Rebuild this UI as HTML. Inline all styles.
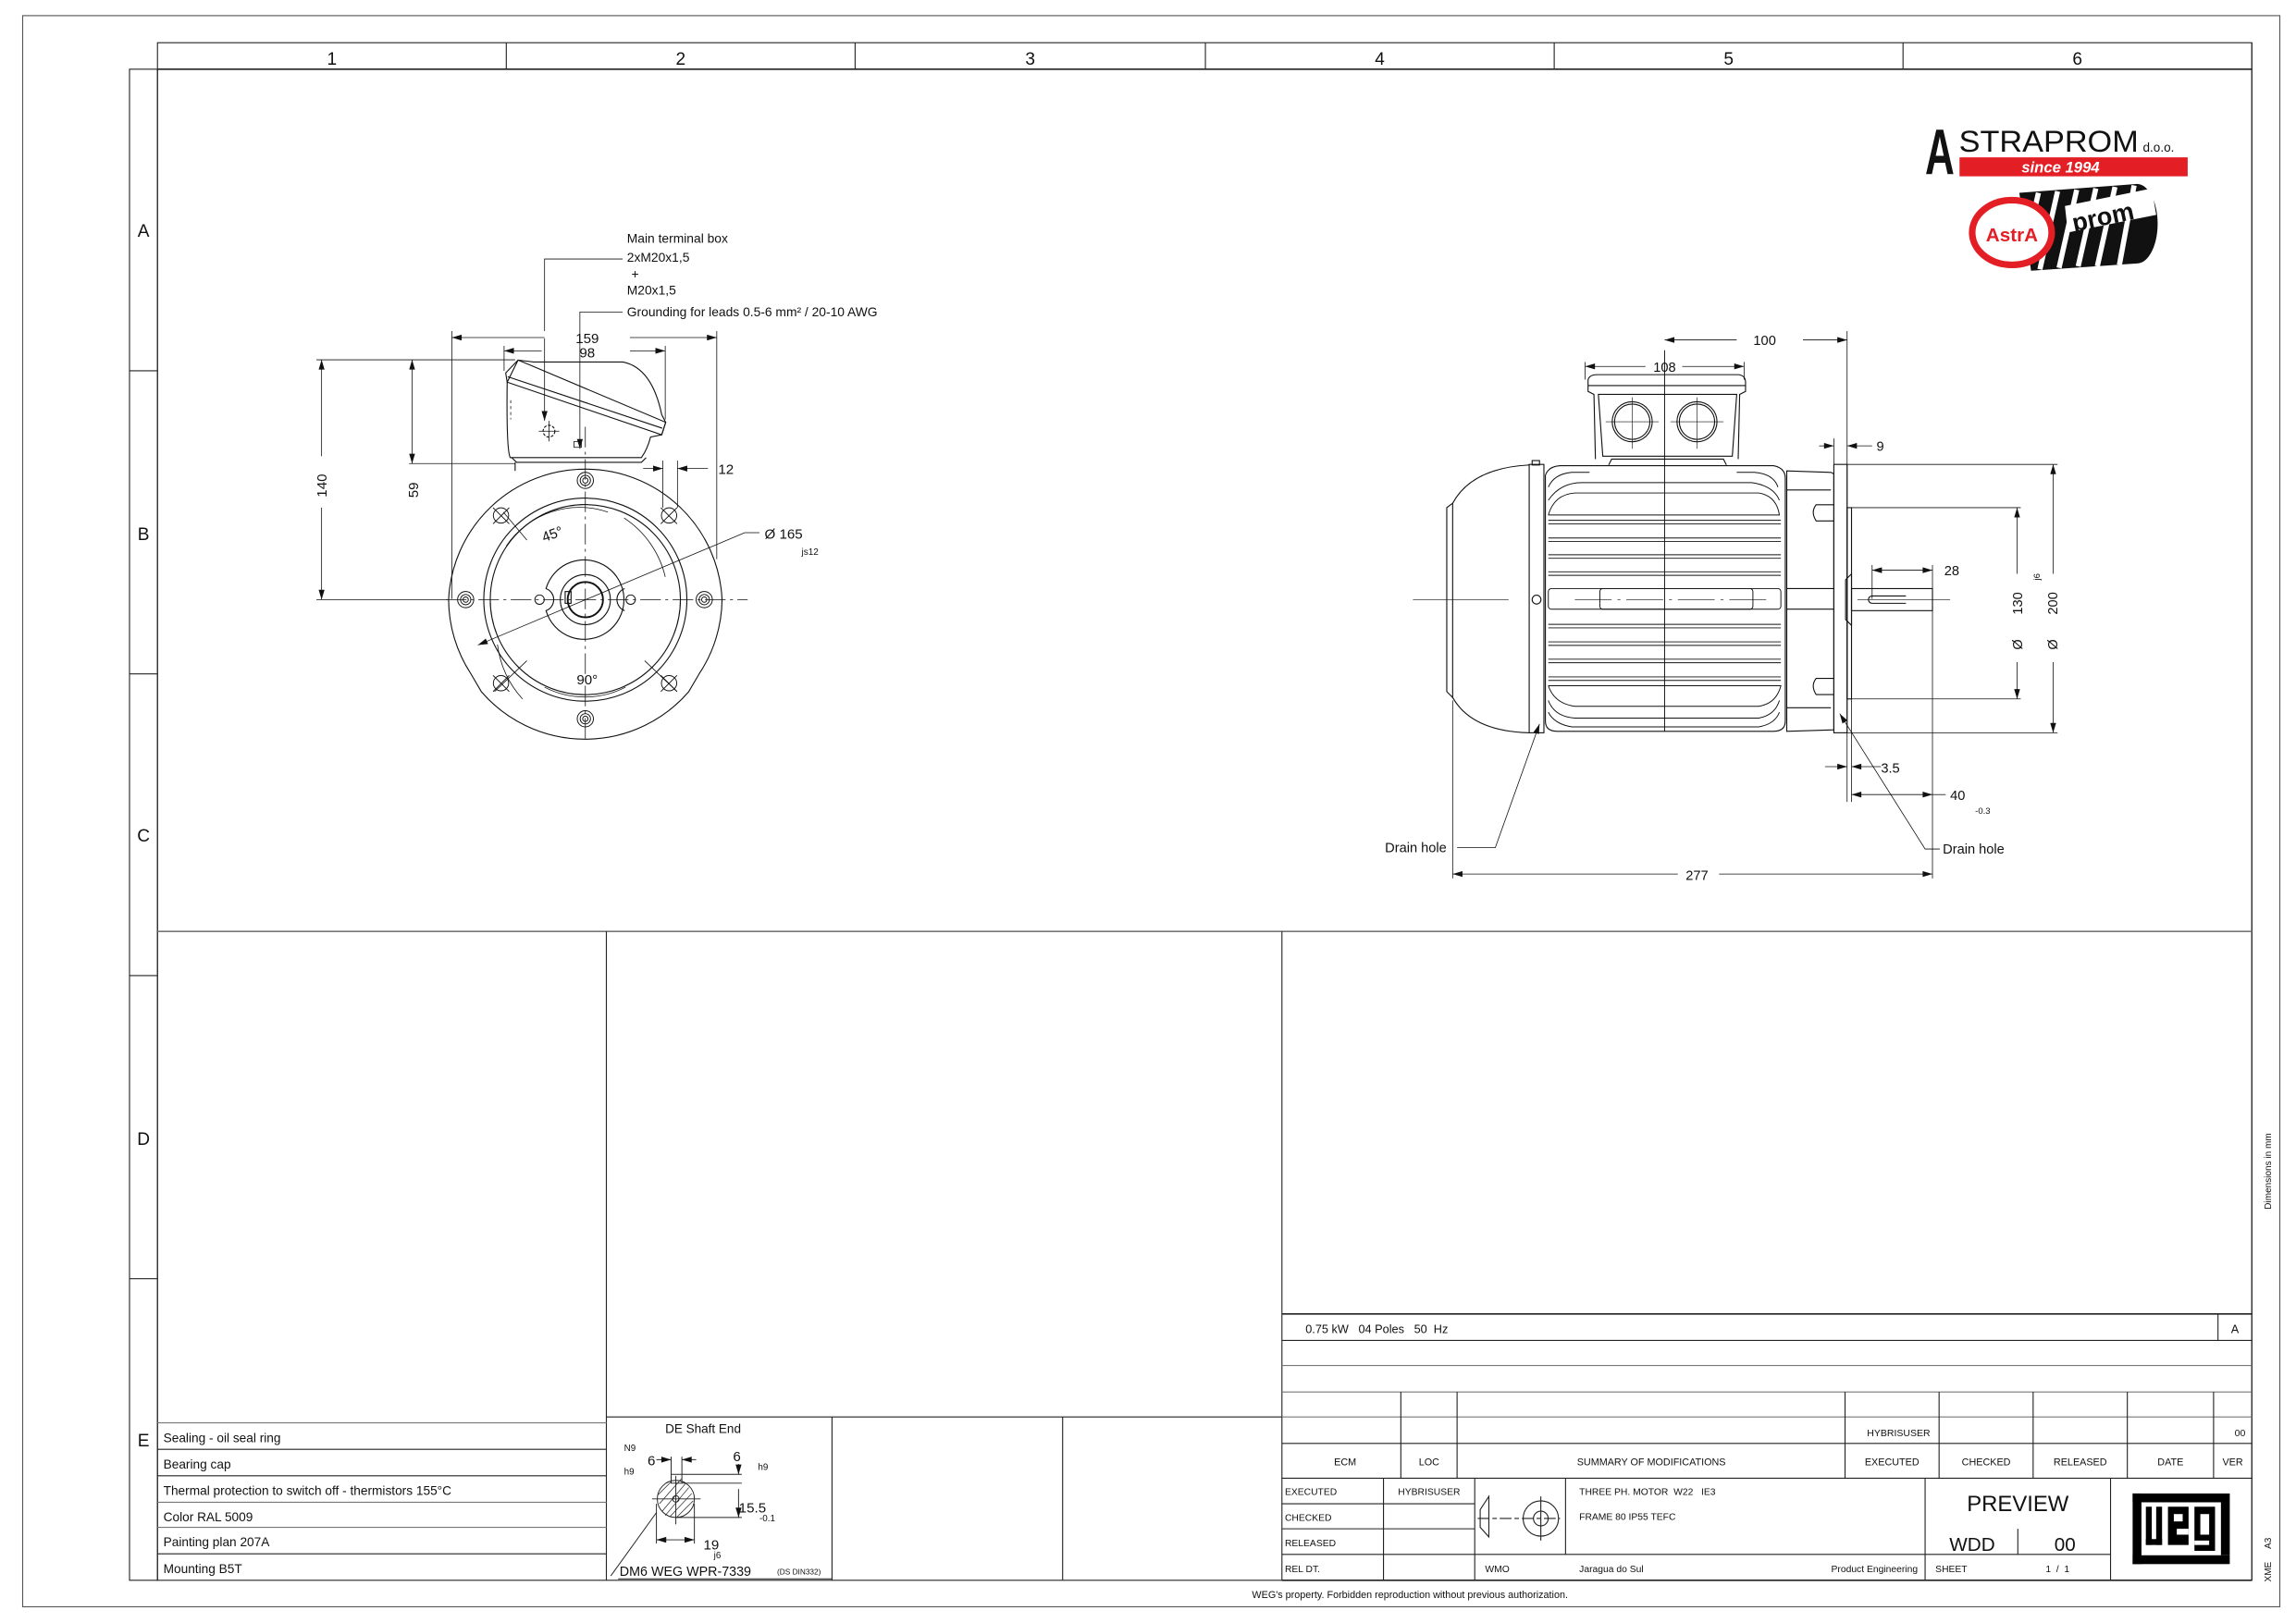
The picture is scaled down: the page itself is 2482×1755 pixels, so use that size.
<!DOCTYPE html>
<html><head><meta charset="utf-8"><style>
html,body{margin:0;padding:0;background:#fff}
svg{display:block}
text{font-family:"Liberation Sans",Arial,sans-serif;fill:#111}
</style></head><body>
<svg width="2482" height="1755" viewBox="0 0 1560 1103" xmlns="http://www.w3.org/2000/svg">
<defs>
<marker id="a" viewBox="0 0 10 6" refX="10" refY="3" markerWidth="7" markerHeight="4" orient="auto-start-reverse" markerUnits="userSpaceOnUse"><path d="M0,0 L10,3 L0,6 z" fill="#111"/></marker>
</defs>
<g fill="none" stroke="#222" stroke-width="0.7">
<rect x="15.4" y="10.6" width="1533.6" height="1081.4" stroke="#555"/>
<rect x="107" y="29" width="1423" height="1045"/>
<line x1="107" y1="47" x2="1530" y2="47" stroke-width="1"/>
<rect x="88" y="47" width="19" height="1027"/>
<line x1="344" y1="29" x2="344" y2="47"/><line x1="581" y1="29" x2="581" y2="47"/><line x1="819" y1="29" x2="819" y2="47"/><line x1="1056" y1="29" x2="1056" y2="47"/><line x1="1293" y1="29" x2="1293" y2="47"/>
<line x1="88" y1="252" x2="107" y2="252"/><line x1="88" y1="458" x2="107" y2="458"/><line x1="88" y1="663" x2="107" y2="663"/><line x1="88" y1="869" x2="107" y2="869"/>
<line x1="1530" y1="29" x2="1530" y2="1074"/>
<line x1="107" y1="633" x2="1530" y2="633" stroke="#777" stroke-width="1"/>
<line x1="412" y1="633" x2="412" y2="1074"/>
<line x1="871" y1="633" x2="871" y2="1074"/>
<line x1="107" y1="967" x2="412" y2="967" stroke="#777"/>
<line x1="107" y1="985" x2="412" y2="985"/><line x1="107" y1="1003" x2="412" y2="1003"/><line x1="107" y1="1021" x2="412" y2="1021" stroke="#777"/><line x1="107" y1="1038" x2="412" y2="1038" stroke="#777"/><line x1="107" y1="1056" x2="412" y2="1056"/>
<line x1="412" y1="963" x2="871" y2="963"/>
<line x1="565.3" y1="963" x2="565.3" y2="1074"/>
<line x1="722" y1="963" x2="722" y2="1074"/>
<line x1="871" y1="893" x2="1530" y2="893" stroke-width="1"/>
<line x1="871" y1="911" x2="1530" y2="911"/>
<line x1="1507" y1="893" x2="1507" y2="911"/>
<line x1="871" y1="928" x2="1530" y2="928" stroke="#777"/>
<line x1="871" y1="946" x2="1530" y2="946" stroke="#777"/>
<line x1="871" y1="963" x2="1530" y2="963" stroke="#777"/>
<line x1="871" y1="981" x2="1530" y2="981"/>
<line x1="871" y1="1004.6" x2="1530" y2="1004.6"/>
<line x1="951.8" y1="946" x2="951.8" y2="1004.6"/><line x1="990" y1="946" x2="990" y2="1004.6"/><line x1="1253.6" y1="946" x2="1253.6" y2="1004.6"/><line x1="1317.5" y1="946" x2="1317.5" y2="1004.6"/><line x1="1381.4" y1="946" x2="1381.4" y2="1004.6"/><line x1="1445.4" y1="946" x2="1445.4" y2="1004.6"/><line x1="1504" y1="946" x2="1504" y2="1004.6"/>
<line x1="940" y1="1004.6" x2="940" y2="1074"/>
<line x1="1002" y1="1004.6" x2="1002" y2="1074"/>
<line x1="1063.7" y1="1004.6" x2="1063.7" y2="1056.4"/>
<line x1="1308" y1="1004.6" x2="1308" y2="1074"/>
<line x1="1434" y1="1004.6" x2="1434" y2="1074"/>
<line x1="871" y1="1022" x2="1002" y2="1022"/>
<line x1="871" y1="1039" x2="1002" y2="1039"/>
<line x1="871" y1="1056.4" x2="1434" y2="1056.4"/>
<line x1="1371" y1="1039" x2="1371" y2="1056.4"/>
<line x1="871" y1="1074" x2="1530" y2="1074" stroke-width="1"/>
<path d="M1005.7,1026 L1011.6,1017 L1011.6,1044.5 L1005.7,1038 Z"/>
<circle cx="1046.9" cy="1032" r="12"/><circle cx="1046.9" cy="1032" r="5"/>
<line x1="1004" y1="1032" x2="1060" y2="1032" stroke-dasharray="8,2,3,2"/>
<line x1="1046.9" y1="1017" x2="1046.9" y2="1047"/>
</g>

<g font-size="12" text-anchor="middle" fill="#333">
<text x="225.5" y="44">1</text><text x="462.5" y="44">2</text><text x="700" y="44">3</text><text x="937.5" y="44">4</text><text x="1174.5" y="44">5</text><text x="1411.5" y="44">6</text>
<text x="97.5" y="161">A</text><text x="97.5" y="367">B</text><text x="97.5" y="572">C</text><text x="97.5" y="778">D</text><text x="97.5" y="983">E</text>
</g>
<text x="1543" y="796" font-size="6.3" text-anchor="middle" transform="rotate(-90 1543 796)">Dimensions in mm</text>
<text x="1543" y="1060" font-size="6.3" text-anchor="middle" transform="rotate(-90 1543 1060)">XME &#160;&#160;&#160;&#160;A3</text>
<text x="958" y="1086" font-size="6.8" text-anchor="middle">WEG's property. Forbidden reproduction without previous authorization.</text>

<g font-size="8.6">
<text x="111" y="980">Sealing - oil seal ring</text>
<text x="111" y="998">Bearing cap</text>
<text x="111" y="1016">Thermal protection to switch off - thermistors 155°C</text>
<text x="111" y="1034">Color RAL 5009</text>
<text x="111" y="1051">Painting plan 207A</text>
<text x="111" y="1069">Mounting B5T</text>
</g>

<g font-size="8.5">
<text x="477.7" y="974" text-anchor="middle">DE Shaft End</text>
<text x="424" y="986" font-size="6.2">N9</text>
<text x="424" y="1002" font-size="6.2">h9</text>
<text x="440" y="996" font-size="9.5">6</text>
<text x="498" y="993" font-size="9.5">6</text>
<text x="515" y="999" font-size="6.2">h9</text>
<text x="502" y="1028" font-size="9.5">15.5</text>
<text x="516" y="1034" font-size="6.2">-0.1</text>
<text x="478" y="1053" font-size="9.5">19</text>
<text x="485" y="1059" font-size="6.2">j6</text>
<text x="421" y="1071" font-size="9">DM6 WEG WPR-7339</text>
<text x="528" y="1070" font-size="5.2">(DS DIN332)</text>
</g>
<g fill="none" stroke="#222" stroke-width="0.6">
<circle cx="459.2" cy="1018.7" r="12.6"/>
<circle cx="459.2" cy="1018.7" r="2.2"/>
<rect x="456" y="1002" width="7.3" height="6"/>
<line x1="443" y1="1018.7" x2="476" y2="1018.7"/>
<line x1="459.2" y1="1003" x2="459.2" y2="1036"/>
<path d="M450,1027 L466,1008 M452,1030 L468,1011 M455,1031 L470,1015 M448,1022 L463,1005 M447,1016 L456,1007 M460,1031 L471,1020" stroke-width="0.45"/>
<line x1="456" y1="990" x2="456" y2="1002"/><line x1="463.3" y1="990" x2="463.3" y2="1002"/>
<line x1="446" y1="992" x2="456" y2="992" marker-end="url(#a)"/><line x1="473" y1="992" x2="463.3" y2="992" marker-end="url(#a)"/>
<line x1="463.3" y1="1002" x2="504" y2="1002"/><line x1="463.3" y1="1008" x2="504" y2="1008"/><line x1="459.2" y1="1031.3" x2="504" y2="1031.3"/>
<line x1="501.8" y1="995" x2="501.8" y2="1002" marker-end="url(#a)"/><line x1="501.8" y1="1012" x2="501.8" y2="1031.3" marker-end="url(#a)"/>
<line x1="446" y1="1022" x2="446" y2="1049"/><line x1="471.8" y1="1022" x2="471.8" y2="1049"/>
<line x1="446" y1="1046.5" x2="471.8" y2="1046.5" marker-start="url(#a)" marker-end="url(#a)"/>
<line x1="446" y1="1028" x2="415" y2="1071"/>
<line x1="420" y1="1073" x2="565" y2="1073"/>
</g>

<g font-size="7">
<text x="887" y="906" font-size="8">0.75 kW &#160;&#160;04 Poles &#160;&#160;50 &#160;Hz</text>
<text x="1518.5" y="906" font-size="8" text-anchor="middle">A</text>
<text x="1290" y="976" text-anchor="middle" font-size="6.6">HYBRISUSER</text>
<text x="1522" y="976" text-anchor="middle" font-size="6.6">00</text>
<g text-anchor="middle" font-size="6.8">
<text x="914" y="996">ECM</text><text x="971" y="996">LOC</text><text x="1122" y="996">SUMMARY OF MODIFICATIONS</text>
<text x="1285.5" y="996">EXECUTED</text><text x="1349.5" y="996">CHECKED</text><text x="1413.4" y="996">RELEASED</text><text x="1474.7" y="996">DATE</text><text x="1517" y="996">VER</text>
</g>
<g font-size="6.5">
<text x="873" y="1016">EXECUTED</text><text x="971" y="1016" text-anchor="middle">HYBRISUSER</text>
<text x="873" y="1033.5">CHECKED</text>
<text x="873" y="1051">RELEASED</text>
<text x="873" y="1068.5">REL DT.</text>
<text x="1073" y="1016">THREE PH. MOTOR &#160;W22 &#160;&#160;IE3</text>
<text x="1073" y="1033">FRAME 80 IP55 TEFC</text>
<text x="1009" y="1068.5">WMO</text>
<text x="1073" y="1068.5">Jaragua do Sul</text>
<text x="1303" y="1068.5" text-anchor="end">Product Engineering</text>
<text x="1315" y="1068.5">SHEET</text>
<text x="1398" y="1068.5" text-anchor="middle">1 &#160;/ &#160;1</text>
</g>
<text x="1371" y="1027" font-size="15" text-anchor="middle">PREVIEW</text>
<text x="1340" y="1054" font-size="13" text-anchor="middle">WDD</text>
<text x="1403" y="1054" font-size="13" text-anchor="middle">00</text>
</g>
<!-- WEG logo -->
<g fill="#000">
<rect x="1449" y="1015" width="66" height="6"/>
<rect x="1449" y="1015" width="6" height="48"/>
<rect x="1449" y="1057" width="66" height="6"/>
<rect x="1458" y="1024" width="4" height="26"/>
<rect x="1465" y="1024" width="4" height="26"/>
<rect x="1458" y="1046" width="11" height="4"/>
<rect x="1473" y="1024" width="14" height="26"/>
<rect x="1477" y="1029" width="6" height="5" fill="#fff"/>
<rect x="1479" y="1039" width="8" height="4" fill="#fff"/>
<rect x="1491" y="1024" width="14" height="30"/>
<rect x="1495" y="1029" width="6" height="14" fill="#fff"/>
<rect x="1491" y="1047" width="10" height="3" fill="#fff"/>
<rect x="1509" y="1021" width="6" height="36"/>
</g>

<!-- ASTRAPROM logo -->
<g>
<text x="1308" y="118.4" font-size="44" font-weight="bold" textLength="20" lengthAdjust="spacingAndGlyphs" fill="#111">A</text>
<text x="1331" y="103" font-size="20.5" textLength="122" lengthAdjust="spacingAndGlyphs" fill="#111">STRAPROM</text>
<text x="1456" y="103" font-size="8.5" fill="#111">d.o.o.</text>
<rect x="1331.4" y="106.9" width="155" height="12.9" fill="#e31e24"/>
<text x="1400" y="117.3" font-size="10.5" font-weight="bold" font-style="italic" text-anchor="middle" style="fill:#fff">since 1994</text>
<path d="M1372,131 L1452,125 A14,27 0 0 1 1452,179 L1380,184 Z" fill="#111"/>
<g stroke="#fff" stroke-width="3.5">
<line x1="1385" y1="131" x2="1373" y2="184"/><line x1="1398" y1="130" x2="1386" y2="183"/><line x1="1411" y1="129" x2="1399" y2="182"/><line x1="1424" y1="128" x2="1412" y2="181"/><line x1="1437" y1="127" x2="1425" y2="181"/><line x1="1450" y1="126" x2="1440" y2="180"/>
</g>
<path d="M1403,140 L1462,128 L1465,146 L1405,158 Z" fill="#fff"/>
<text x="1430" y="153" font-size="17" font-weight="bold" text-anchor="middle" transform="rotate(-12 1430 153)" fill="#111">prom</text>
<ellipse cx="1367" cy="158" rx="27" ry="22" fill="#fff" stroke="#e31e24" stroke-width="4.5"/>
<text x="1367" y="164" font-size="13" text-anchor="middle" style="fill:#e31e24" font-weight="bold">AstrA</text>
</g>

<!-- FRONT VIEW -->
<g fill="none" stroke="#111" stroke-width="0.7">
<path d="M304.8,407.5 A93,93 0 0 1 490.6,407.5 A93,93 0 0 1 475,458 L468,470 A93,93 0 0 1 327,470 L320,458 A93,93 0 0 1 304.8,407.5 Z"/>
<circle cx="397.7" cy="407.5" r="69"/>
<circle cx="397.7" cy="407.5" r="64.6"/>
<path d="M371,400 A27,27 0 1 1 371,415 A8,8 0 0 0 371,400 Z M424.4,400 A8,8 0 0 0 424.4,415"/>
<circle cx="397.7" cy="407.5" r="17"/>
<circle cx="397.7" cy="407.5" r="12" stroke-width="1.2"/>
<rect x="384" y="402" width="4" height="8"/>
<g stroke-width="0.6">
<circle cx="397.7" cy="326.5" r="5.5"/><circle cx="397.7" cy="326.5" r="3.5"/><circle cx="397.7" cy="326.5" r="1.8"/>
<circle cx="397.7" cy="488.5" r="5.5"/><circle cx="397.7" cy="488.5" r="3.5"/><circle cx="397.7" cy="488.5" r="1.8"/>
<circle cx="316.4" cy="407.5" r="5.5"/><circle cx="316.4" cy="407.5" r="3.5"/><circle cx="316.4" cy="407.5" r="1.8"/>
<circle cx="478.5" cy="407.5" r="5.5"/><circle cx="478.5" cy="407.5" r="3.5"/><circle cx="478.5" cy="407.5" r="1.8"/>
<circle cx="366.6" cy="407.5" r="3.2"/><circle cx="428.5" cy="407.5" r="3.2"/>
<circle cx="340.4" cy="350.3" r="5.2"/><path d="M335,345 L346,356 M346,345 L335,356"/>
<circle cx="454.6" cy="350.3" r="5.2"/><path d="M449,345 L460,356 M460,345 L449,356"/>
<circle cx="340.4" cy="464.3" r="5.2"/><path d="M335,459 L346,470 M346,459 L335,470"/>
<circle cx="454.6" cy="464.3" r="5.2"/><path d="M449,459 L460,470 M460,459 L449,470"/>
</g>
<line x1="303" y1="407.5" x2="508" y2="407.5" stroke-width="0.5" stroke-dasharray="14,3,2,3"/>
<line x1="397.7" y1="290" x2="397.7" y2="505" stroke-width="0.5" stroke-dasharray="14,3,2,3"/>
<path d="M344,371 A60,60 0 0 1 413,348" stroke-width="0.5"/>
<path d="M370,467 A60,60 0 0 0 425,467" stroke-width="0.5"/>
<path d="M424,352 A66,66 0 0 1 452,392" stroke-width="0.5"/>
<path d="M338,438 A68,68 0 0 0 355,475" stroke-width="0.5"/>
<line x1="358" y1="367" x2="342" y2="348" stroke-width="0.5"/>
<line x1="438" y1="449" x2="460" y2="470" stroke-width="0.5"/>
<line x1="358" y1="449" x2="336" y2="470" stroke-width="0.5"/>
<path d="M352,244.7 L362.6,246 L423.3,246 Q443,250 449.6,281.8 L452.3,287 L449.6,295.5 L442,297 Q440,305 435.8,311 L346.7,311 Q344,306 344.6,259.7 Z"/>
<path d="M343.6,253.4 L352,244.7 L360,248 L452.3,287 L449.6,295.5 L344.6,259.7 Z"/>
<line x1="345" y1="256" x2="450" y2="291"/>
<path d="M347.7,311 L351,314.2 L435.8,314.2 L439,311"/>
<line x1="350" y1="314.2" x2="350" y2="320"/>
<circle cx="373" cy="293" r="4" stroke-dasharray="2,1"/>
<line x1="366" y1="293" x2="380" y2="293" stroke-width="0.5"/><line x1="373" y1="286" x2="373" y2="300" stroke-width="0.5"/>
<rect x="390" y="300" width="5" height="4" stroke-width="0.5"/>
<line x1="347" y1="272" x2="347" y2="285" stroke-dasharray="2,2" stroke-width="0.5"/>
</g>
<g fill="none" stroke="#111" stroke-width="0.5">
<line x1="215" y1="244.5" x2="350" y2="244.5"/>
<line x1="278" y1="315" x2="350" y2="315"/>
<line x1="215" y1="407.5" x2="305" y2="407.5"/>
<line x1="218.5" y1="310" x2="218.5" y2="244.5" marker-end="url(#a)"/>
<line x1="218.5" y1="345" x2="218.5" y2="407.5" marker-end="url(#a)"/>
<line x1="280" y1="280" x2="280" y2="244.5" marker-end="url(#a)"/>
<line x1="280" y1="280" x2="280" y2="315" marker-end="url(#a)"/>
<line x1="307" y1="225" x2="307" y2="407"/><line x1="487" y1="225" x2="487" y2="380"/>
<line x1="342.5" y1="235" x2="342.5" y2="252"/><line x1="452" y1="235" x2="452" y2="285"/>
<line x1="370" y1="229.4" x2="307" y2="229.4" marker-end="url(#a)"/><line x1="428" y1="229.4" x2="487" y2="229.4" marker-end="url(#a)"/>
<line x1="368" y1="238.4" x2="342.5" y2="238.4" marker-end="url(#a)"/><line x1="428" y1="238.4" x2="452" y2="238.4" marker-end="url(#a)"/>
<line x1="450.4" y1="313" x2="450.4" y2="345"/><line x1="460.3" y1="313" x2="460.3" y2="345"/>
<line x1="437" y1="318.4" x2="450.4" y2="318.4" marker-end="url(#a)"/><line x1="481" y1="318.4" x2="460.3" y2="318.4" marker-end="url(#a)"/>
<line x1="324.7" y1="438.4" x2="506" y2="362" marker-start="url(#a)"/>
<line x1="506" y1="362" x2="516" y2="362"/>
<path d="M370,225 L370,176 L423,176"/>
<line x1="370" y1="230" x2="370" y2="286" marker-end="url(#a)"/>
<path d="M394,305 L394,212 L423,212" marker-start="url(#a)"/>
</g>
<g font-size="8.7">
<text x="426" y="165">Main terminal box</text>
<text x="426" y="178">2xM20x1,5</text>
<text x="429" y="189">+</text>
<text x="426" y="200">M20x1,5</text>
<text x="426" y="215">Grounding for leads 0.5-6 mm² / 20-10 AWG</text>
<text x="399" y="233" text-anchor="middle" font-size="9.5">159</text>
<text x="399" y="243" text-anchor="middle" font-size="9.5" fill="#555">98</text>
<text x="488" y="322" font-size="9.5">12</text>
<text x="519.5" y="366" font-size="9.5">Ø 165</text>
<text x="544.6" y="377" font-size="6.3">js12</text>
<text x="376.4" y="366" font-size="9.5" text-anchor="middle" transform="rotate(-20 376.4 366)">45°</text>
<text x="399" y="465" font-size="9.5" text-anchor="middle">90°</text>
<text x="222" y="330" font-size="9.5" text-anchor="middle" transform="rotate(-90 222 330)">140</text>
<text x="284" y="333" font-size="9.5" text-anchor="middle" transform="rotate(-90 284 333)">59</text>
</g>

<!-- SIDE VIEW -->
<g fill="none" stroke="#111" stroke-width="0.7">
<path d="M1039,316 Q1000,318 987,342 L983,345 L983,470 L987,474 Q1000,497 1039,498"/>
<line x1="987" y1="342" x2="987" y2="474"/>
<rect x="1039" y="315.6" width="10" height="182.4"/>
<rect x="1041" y="313" width="5" height="3"/>
<circle cx="1044" cy="407.5" r="3"/>
<path d="M1050,323 Q1052,317 1060,316.5 L1205,316.5 Q1213,318 1213,325 L1213,490 Q1213,497 1205,497 L1058,497 Q1050,497 1050,490 Z"/>
<g stroke-width="0.6">
<path d="M1052,331 Q1056,322 1068,321 L1080,321"/><path d="M1208,331 Q1205,322 1192,321 L1180,321"/>
<path d="M1052,340 Q1060,328 1075,328 L1190,328 Q1205,330 1209,340"/>
<path d="M1052,350 Q1056,336 1070,335 L1195,335 Q1207,337 1209,350 L1052,350"/>
<line x1="1052" y1="353.6" x2="1210" y2="353.6"/><line x1="1052" y1="356" x2="1210" y2="356"/>
<line x1="1052" y1="365.6" x2="1210" y2="365.6"/><line x1="1052" y1="368" x2="1210" y2="368"/>
<line x1="1052" y1="377" x2="1210" y2="377"/><line x1="1052" y1="379.4" x2="1210" y2="379.4"/>
<line x1="1052" y1="388.6" x2="1210" y2="388.6"/><line x1="1052" y1="391" x2="1210" y2="391"/>
<rect x="1052" y="400" width="158" height="14" rx="2"/>
<rect x="1087" y="400" width="104" height="14" rx="2"/>
<line x1="1052" y1="424.3" x2="1210" y2="424.3"/><line x1="1052" y1="426.7" x2="1210" y2="426.7"/>
<line x1="1052" y1="436.2" x2="1210" y2="436.2"/><line x1="1052" y1="438.6" x2="1210" y2="438.6"/>
<line x1="1052" y1="448" x2="1210" y2="448"/><line x1="1052" y1="450.4" x2="1210" y2="450.4"/>
<line x1="1052" y1="460" x2="1210" y2="460"/><line x1="1052" y1="462.4" x2="1210" y2="462.4"/>
<path d="M1052,466 L1210,466 Q1207,478 1195,480 L1070,480 Q1056,478 1052,466"/>
<path d="M1052,476 Q1056,487 1070,488 L1195,488 Q1206,486 1209,476"/>
<path d="M1052,484 Q1056,492 1068,494 L1195,494 Q1206,492 1209,484"/>
</g>
<path d="M1084,312 L1083,268 L1079,266 L1079,258 Q1080,254.6 1085,254.6 L1181,254.6 Q1186,255 1186,260 L1186,266 L1182,268 L1181,312"/>
<line x1="1079" y1="262" x2="1186" y2="262"/>
<path d="M1086,268 L1089,310 L1177,310 L1180,268 Z"/>
<path d="M1093,316 L1095,312 L1171,312 L1173,316"/>
<circle cx="1109" cy="286.6" r="13.6"/><circle cx="1109" cy="286.6" r="12"/>
<circle cx="1153" cy="286.6" r="13.6"/><circle cx="1153" cy="286.6" r="12"/>
<g stroke-width="0.4"><line x1="1091" y1="286.6" x2="1127" y2="286.6"/><line x1="1109" y1="270" x2="1109" y2="305"/>
<line x1="1135" y1="286.6" x2="1171" y2="286.6"/><line x1="1153" y1="270" x2="1153" y2="305"/></g>
<path d="M1214,320 L1244,321 L1246,322 L1246,496 L1214,497 Z"/>
<line x1="1214" y1="333" x2="1244" y2="333"/><line x1="1214" y1="481" x2="1244" y2="481"/>
<path d="M1246,343 L1234,343 Q1230,348 1234,354 L1246,354"/>
<path d="M1246,461 L1234,461 Q1230,466 1234,472 L1246,472"/>
<line x1="1214" y1="400" x2="1246" y2="400"/><line x1="1214" y1="414" x2="1246" y2="414"/>
<rect x="1246" y="315.6" width="9" height="182.4"/>
<rect x="1255" y="345" width="3" height="130"/>
<path d="M1254,394 L1258,390 L1258,425 L1254,421 Z"/>
<rect x="1258" y="400" width="55" height="15"/>
<path d="M1295,405 L1272,405 A2.5,2.5 0 0 0 1272,410 L1295,410"/>
</g>
<g fill="none" stroke="#111" stroke-width="0.4">
<line x1="960" y1="407.5" x2="1025" y2="407.5"/>
<line x1="1070" y1="407.5" x2="1200" y2="407.5" stroke-dasharray="25,4,2,4"/>
<line x1="1262" y1="407.5" x2="1325" y2="407.5"/>
<line x1="1131" y1="238" x2="1131" y2="497" stroke-width="0.6"/>
</g>
<g fill="none" stroke="#111" stroke-width="0.5">
<line x1="1255" y1="225" x2="1255" y2="545"/>
<line x1="1131" y1="231" x2="1180" y2="231" marker-start="url(#a)"/><line x1="1225" y1="231" x2="1255" y2="231" marker-end="url(#a)"/>
<line x1="1077" y1="246" x2="1077" y2="258"/><line x1="1185" y1="246" x2="1185" y2="258"/>
<line x1="1077" y1="249" x2="1118" y2="249" marker-start="url(#a)"/><line x1="1143" y1="249" x2="1185" y2="249" marker-end="url(#a)"/>
<line x1="1246" y1="298" x2="1246" y2="316"/>
<line x1="1236" y1="303" x2="1246" y2="303" marker-end="url(#a)"/><line x1="1272" y1="303" x2="1255" y2="303" marker-end="url(#a)"/>
<line x1="1255" y1="315.6" x2="1398" y2="315.6"/><line x1="1255" y1="498" x2="1398" y2="498"/>
<line x1="1258" y1="345" x2="1373" y2="345"/><line x1="1258" y1="475" x2="1373" y2="475"/>
<line x1="1370.5" y1="390" x2="1370.5" y2="345" marker-end="url(#a)"/><line x1="1370.5" y1="450" x2="1370.5" y2="475" marker-end="url(#a)"/>
<line x1="1395" y1="390" x2="1395" y2="315.6" marker-end="url(#a)"/><line x1="1395" y1="450" x2="1395" y2="498" marker-end="url(#a)"/>
<line x1="1272" y1="384" x2="1272" y2="407"/><line x1="1313" y1="384" x2="1313" y2="597"/>
<line x1="1272" y1="387.5" x2="1313" y2="387.5" marker-start="url(#a)" marker-end="url(#a)"/>
<line x1="1258" y1="475" x2="1258" y2="545"/>
<line x1="1240" y1="521" x2="1255" y2="521" marker-end="url(#a)"/><line x1="1278" y1="521" x2="1258" y2="521" marker-end="url(#a)"/>
<line x1="1258" y1="540" x2="1313" y2="540" marker-start="url(#a)" marker-end="url(#a)"/><line x1="1313" y1="540" x2="1322" y2="540"/>
<line x1="987" y1="476" x2="987" y2="597"/>
<line x1="987" y1="594" x2="1140" y2="594" marker-start="url(#a)"/><line x1="1168" y1="594" x2="1313" y2="594" marker-end="url(#a)"/>
<path d="M990,576 L1016,576 L1046,492" marker-end="url(#a)"/>
<path d="M1318,577 L1308,577 L1250,485" marker-end="url(#a)"/>
</g>
<g font-size="9.2">
<text x="1199" y="234.5" text-anchor="middle">100</text>
<text x="1131" y="252.5" text-anchor="middle" fill="#444">108</text>
<text x="1275" y="306.5">9</text>
<text x="1321" y="391">28</text>
<text x="1278" y="525">3.5</text>
<text x="1325" y="543.5">40</text>
<text x="1342" y="553" font-size="6">-0.3</text>
<text x="1153" y="598" text-anchor="middle">277</text>
<text x="941" y="579">Drain hole</text>
<text x="1320" y="580">Drain hole</text>
<text x="1374" y="410" text-anchor="middle" transform="rotate(-90 1374 410)">130</text>
<text x="1374" y="438" text-anchor="middle" transform="rotate(-90 1374 438)">Ø</text>
<text x="1386" y="392" font-size="6" text-anchor="middle" transform="rotate(-90 1386 392)">j6</text>
<text x="1398" y="410" text-anchor="middle" transform="rotate(-90 1398 410)">200</text>
<text x="1398" y="438" text-anchor="middle" transform="rotate(-90 1398 438)">Ø</text>
</g>
</svg>
</body></html>
